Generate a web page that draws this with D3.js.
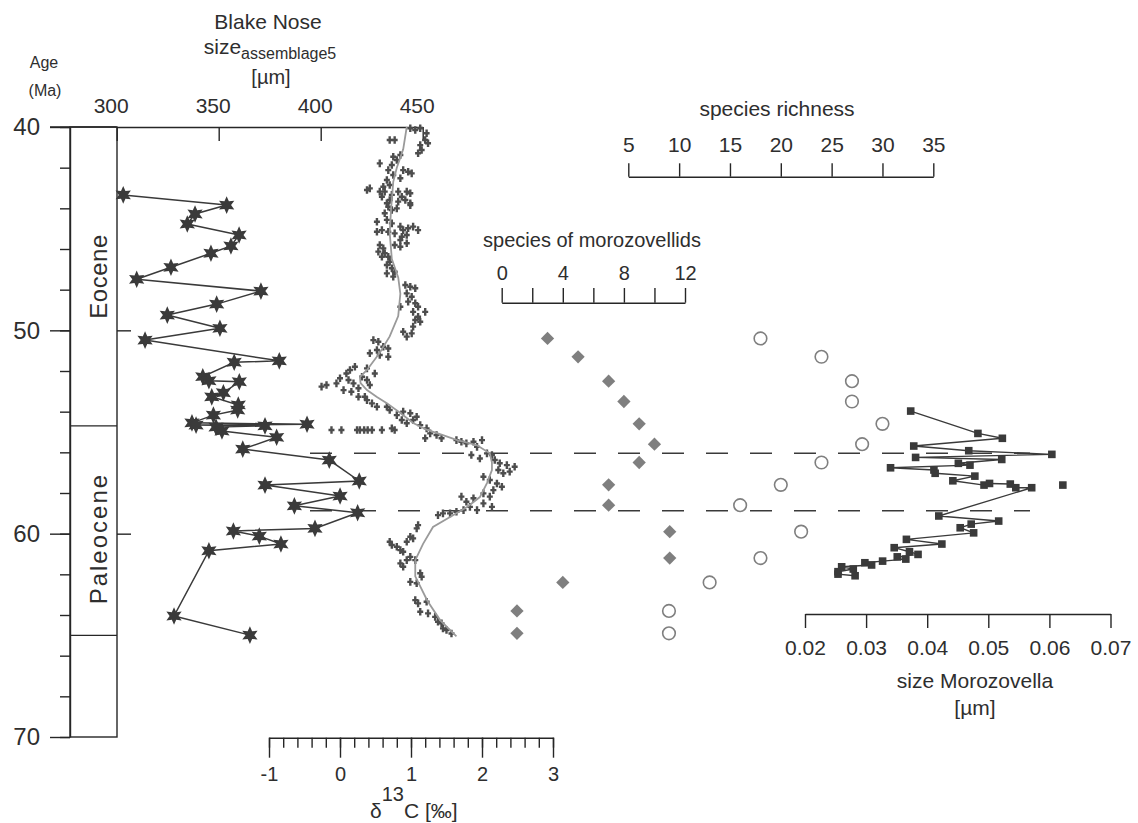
<!DOCTYPE html>
<html>
<head>
<meta charset="utf-8">
<script src="https://cdn.jsdelivr.net/npm/d3@7"></script>
<style>
  body { margin: 0; background: #fff; }
  svg text { font-family: "Liberation Sans", Arial, sans-serif; fill: #2e2e2e; }
</style>
</head>
<body>
<svg id="chart" width="1138" height="823"></svg>
<script>
// ---- data (age in Ma) ----
const epochs = [
  { name: 'Eocene', top: 40, bottom: 54.7 },
  { name: 'Paleocene', top: 54.7, bottom: 65 }
];
const eventAges = [56.05, 58.87];

// size assemblage5 [µm] : [age, size]
const assemblageSize = [
  [43.34, 303.2], [43.84, 353.9], [44.28, 338.4], [44.77, 334.6], [45.31, 360.0],
  [45.85, 356.0], [46.21, 346.2], [46.90, 326.6], [47.49, 309.8], [48.07, 370.7],
  [48.71, 349.0], [49.25, 324.8], [49.90, 350.6], [50.48, 313.9], [51.50, 379.7],
  [51.57, 357.6], [52.28, 342.2], [52.48, 345.2], [52.53, 360.1], [53.07, 352.3],
  [53.27, 346.6], [53.67, 359.6], [53.92, 359.3], [54.17, 347.4], [54.55, 336.9],
  [54.62, 393.3], [54.66, 338.9], [54.70, 372.7], [54.76, 348.7], [54.95, 351.6],
  [55.26, 378.4], [55.84, 361.8], [56.38, 404.2], [57.41, 418.9], [57.61, 372.7],
  [58.15, 409.5], [58.63, 387.1], [58.97, 418.1], [59.74, 397.2], [59.87, 357.2],
  [60.12, 369.9], [60.51, 380.5], [60.84, 345.2], [64.05, 328.1], [64.99, 365.3]
];

// bulk δ13C [‰] : [age, d13C]
const d13C = [
  [40.06, 0.99], [40.15, 1.06], [40.06, 1.13], [40.31, 1.22], [40.64, 1.20], [40.89, 1.13],
  [40.80, 1.24], [41.13, 1.15], [41.29, 1.10], [40.64, 0.70], [40.64, 0.77],
  [41.46, 0.75], [41.62, 0.80], [41.38, 0.85], [41.87, 0.73], [42.12, 0.68], [42.12, 0.89],
  [42.20, 0.96], [42.28, 1.01], [41.79, 0.56], [42.36, 0.75], [42.61, 0.66], [42.52, 0.85],
  [42.85, 0.70], [42.94, 0.61], [43.18, 0.56], [43.02, 0.42], [43.10, 0.38], [43.18, 0.63],
  [43.34, 0.73], [43.18, 0.82], [43.43, 0.87], [43.18, 0.94], [43.26, 0.99], [43.59, 0.92],
  [43.67, 0.82], [43.59, 0.70], [43.75, 0.66], [43.43, 0.59], [43.75, 0.99],
  [43.92, 0.68], [44.08, 0.73], [44.24, 0.63], [44.00, 0.80], [43.84, 0.99], [44.66, 0.52],
  [44.57, 0.66], [44.74, 0.73], [44.90, 0.85], [45.07, 0.89], [44.98, 0.96], [44.90, 1.03],
  [45.07, 1.10], [45.31, 0.94], [45.40, 0.87], [45.23, 0.77], [45.15, 0.68], [45.07, 0.59],
  [45.15, 0.52],
  [45.80, 0.56], [45.97, 0.61], [46.13, 0.54], [46.21, 0.63], [46.38, 0.68], [46.38, 0.59],
  [46.63, 0.70], [46.79, 0.66], [46.95, 0.73], [47.12, 0.77], [47.20, 0.66], [47.36, 0.75],
  [45.89, 0.85], [45.80, 0.77], [45.72, 0.94], [45.56, 0.85],
  [47.77, 0.92], [47.86, 0.99], [47.93, 1.06], [48.18, 0.94], [48.35, 1.01], [48.59, 0.96],
  [48.67, 1.06], [48.84, 1.10], [49.09, 1.03], [49.09, 1.20], [49.33, 1.10], [49.49, 1.06],
  [49.58, 1.13], [49.82, 1.03], [50.07, 0.89], [50.15, 1.01], [50.31, 0.94], [48.84, 0.85],
  [50.48, 0.47], [50.56, 0.54], [50.81, 0.61], [50.89, 0.68], [50.97, 0.52], [51.21, 0.56],
  [51.13, 0.42], [51.30, 0.68],
  [52.77, -0.26], [52.69, -0.19], [52.61, -0.05], [52.36, 0.00], [52.12, 0.09], [51.95, 0.14],
  [52.44, 0.12], [52.61, 0.19], [52.94, 0.05], [53.02, 0.16], [52.85, 0.26], [52.28, 0.31],
  [52.44, 0.38], [52.69, 0.42], [53.27, 0.26], [53.27, 0.35], [51.87, 0.38], [52.12, 0.49],
  [51.79, 0.21],
  [53.43, 0.38], [53.59, 0.45], [53.76, 0.52], [53.76, 0.66], [53.92, 0.70], [54.17, 0.80],
  [54.00, 0.89], [54.08, 0.99], [54.41, 0.87], [54.57, 0.94], [54.41, 1.03], [54.66, 1.13],
  [54.25, 1.08], [54.82, 1.22], [55.07, 1.27], [55.15, 1.36], [55.31, 1.43], [55.31, 1.20],
  [54.90, 0.77], [54.82, 0.73],
  [54.90, -0.12], [54.90, 0.02], [54.90, 0.24], [54.90, 0.28], [54.90, 0.34], [54.90, 0.39],
  [54.90, 0.45], [54.90, 0.59],
  [55.40, 1.64], [55.48, 1.71], [55.56, 1.78], [55.48, 1.88], [55.73, 1.93], [55.40, 2.00],
  [56.13, 1.85], [56.30, 1.97], [56.05, 2.07], [56.13, 2.14], [56.38, 2.18], [56.54, 2.25],
  [56.63, 2.35], [56.71, 2.46], [56.87, 2.23], [57.03, 2.30], [56.95, 2.39], [57.20, 2.02],
  [57.36, 2.11], [57.53, 2.21], [57.69, 2.28], [57.86, 2.16], [58.02, 2.02], [58.18, 2.11],
  [58.26, 1.88], [58.43, 1.78], [58.18, 1.71], [58.68, 1.83], [58.84, 1.93], [58.68, 2.14],
  [58.51, 2.02], [58.84, 1.74], [58.92, 1.64], [59.00, 1.55], [59.00, 1.45], [59.09, 1.38],
  [59.58, 1.10], [59.74, 1.08], [60.15, 0.99], [60.23, 1.03], [60.40, 0.94], [60.40, 0.70],
  [60.56, 0.73], [60.64, 0.80], [60.81, 0.85], [60.89, 0.89], [61.46, 0.85], [61.63, 0.89],
  [61.30, 0.94], [61.14, 0.99], [61.30, 1.06], [61.95, 1.13], [62.37, 0.99], [62.44, 1.08],
  [62.12, 1.15], [63.27, 1.06], [63.43, 1.10], [63.35, 1.22], [63.84, 1.13], [63.92, 1.24],
  [64.09, 1.34], [64.33, 1.38], [64.41, 1.43], [64.66, 1.45], [64.74, 1.50], [64.91, 1.57]
];

// smoothed δ13C : [age, d13C]
const d13CSmooth = [
  [40.0, 0.94], [41.1, 0.89], [42.0, 0.80], [42.7, 0.75], [44.0, 0.72], [45.2, 0.70],
  [46.5, 0.73], [47.4, 0.82], [48.2, 0.85], [49.3, 0.82], [50.3, 0.70], [51.1, 0.56],
  [51.95, 0.38], [52.3, 0.28], [52.6, 0.29], [52.94, 0.38], [53.28, 0.52], [53.58, 0.66],
  [54.07, 0.85], [54.56, 1.03], [54.9, 1.23], [55.15, 1.45], [55.4, 1.65], [55.65, 1.93],
  [56.05, 2.11], [56.5, 2.14], [56.87, 2.14], [57.51, 2.07], [58.2, 1.97], [58.69, 1.79],
  [59.18, 1.55], [59.67, 1.31], [60.5, 1.17], [61.3, 1.06], [62.1, 1.06], [63.3, 1.23],
  [64.25, 1.41], [65.05, 1.64]
];

// samples with species counts
const sampleAges = [50.4, 51.3, 52.5, 53.5, 54.6, 55.6, 56.5, 57.6, 58.6, 59.9, 61.2, 62.4, 63.8, 64.9];
const morozovellidSpecies = [3, 5, 7, 8, 9, 10, 9, 7, 7, 11, 11, 4, 1, 1];
const speciesRichness = [18, 24, 27, 27, 30, 28, 24, 20, 16, 22, 18, 13, 9, 9];

// size Morozovella [µm] : [age, size]
const morozovellaSize = [
  [53.97, 0.0373], [55.07, 0.0483], [55.31, 0.0523], [55.69, 0.0378], [55.92, 0.0468],
  [56.10, 0.0604], [56.25, 0.0381], [56.35, 0.0522], [56.54, 0.0451], [56.63, 0.0470],
  [56.76, 0.0340], [56.87, 0.0411], [57.03, 0.0413], [57.17, 0.0478], [57.40, 0.0442],
  [57.61, 0.0493], [57.53, 0.0502], [57.56, 0.0536], [57.74, 0.0545], [57.74, 0.0571],
  [59.13, 0.0419], [59.38, 0.0517], [59.53, 0.0472], [59.71, 0.0454], [59.96, 0.0476],
  [60.28, 0.0366], [60.51, 0.0424], [60.69, 0.0346], [60.89, 0.0371], [61.02, 0.0385],
  [61.14, 0.0351], [61.25, 0.0365], [61.35, 0.0327], [61.43, 0.0298], [61.54, 0.0309],
  [61.63, 0.0260], [61.74, 0.0279], [61.87, 0.0254], [61.99, 0.0254], [62.07, 0.0282]
];
const morozovellaLoose = [[57.61, 0.0622]];

// ---- scales ----
const svg = d3.select('#chart');
const y = d3.scaleLinear().domain([40, 70]).range([127, 737]);
const xSize = d3.scaleLinear().domain([300, 450]).range([116.7, 422.7]);
const xC = d3.scaleLinear().domain([-1, 3]).range([269, 553]);
const xSpec = d3.scaleLinear().domain([0, 12]).range([501.7, 685]);
const xRich = d3.scaleLinear().domain([5, 35]).range([628.3, 933.3]);
const xMoro = d3.scaleLinear().domain([0.02, 0.07]).range([805, 1110.5]);

const ink = '#262626';

// six-pointed star like the original marker
const star6 = {
  draw: function(context, size) {
    const r = Math.sqrt(size) * 0.72;
    const ri = r * 0.5;
    for (let i = 0; i < 12; i++) {
      const a = Math.PI / 6 * i - Math.PI / 2;
      const rr = i % 2 === 0 ? r : ri;
      if (i === 0) context.moveTo(rr * Math.cos(a), rr * Math.sin(a));
      else context.lineTo(rr * Math.cos(a), rr * Math.sin(a));
    }
    context.closePath();
  }
};

function styleAxis(g, size) {
  g.attr('font-family', null);
  g.selectAll('path, line').attr('stroke', ink).attr('stroke-width', 1.4);
  g.selectAll('text').attr('font-size', size).attr('fill', '#2e2e2e');
}

// ---- age axis & epoch column ----
const ageMinor = svg.append('g').attr('transform', 'translate(70,0)')
  .call(d3.axisLeft(y).tickValues(d3.range(40, 71, 2)).tickSize(10).tickSizeOuter(0).tickFormat(''));
styleAxis(ageMinor, 24);
const ageMajor = svg.append('g').attr('transform', 'translate(70,0)')
  .call(d3.axisLeft(y).tickValues([40, 50, 60, 70]).tickSize(20).tickSizeOuter(0).tickPadding(10)
    .tickFormat(d3.format('d')));
styleAxis(ageMajor, 24);
ageMajor.select('.domain').remove();

const ageRight = svg.append('g').attr('transform', 'translate(117,0)')
  .call(d3.axisRight(y).tickValues([50, 60]).tickSize(14).tickFormat(''));
styleAxis(ageRight, 10);
ageRight.select('.domain').remove();

svg.append('rect').attr('x', 70).attr('y', y(40)).attr('width', 47).attr('height', y(70) - y(40))
  .attr('fill', 'none').attr('stroke', ink).attr('stroke-width', 1.4);
svg.selectAll('line.epoch').data(epochs).enter().append('line')
  .attr('class', 'epoch')
  .attr('x1', 70).attr('x2', 117)
  .attr('y1', function(e) { return y(e.bottom); })
  .attr('y2', function(e) { return y(e.bottom); })
  .attr('stroke', ink).attr('stroke-width', 1.4);
svg.selectAll('text.epoch').data(epochs).enter().append('text')
  .attr('class', 'epoch')
  .attr('transform', function(e) {
    return 'translate(99,' + ((y(e.top) + y(e.bottom)) / 2 + (e.name === 'Paleocene' ? 8 : 0)) + ') rotate(-90)';
  })
  .attr('text-anchor', 'middle').attr('dy', '0.35em')
  .attr('font-size', 24)
  .attr('letter-spacing', function(e) { return e.name === 'Paleocene' ? 2 : 0.5; })
  .text(function(e) { return e.name; });

svg.append('text').attr('x', 44).attr('y', 68).attr('text-anchor', 'middle').attr('font-size', 16).text('Age');
svg.append('text').attr('x', 45).attr('y', 96).attr('text-anchor', 'middle').attr('font-size', 16).text('(Ma)');

// ---- size assemblage5 axis (top) ----
const sizeAxis = svg.append('g').attr('transform', 'translate(0,127)')
  .call(d3.axisTop(xSize).tickValues([300, 350, 400, 450]).tickSize(-14).tickSizeOuter(0).tickPadding(14));
styleAxis(sizeAxis, 21);
sizeAxis.selectAll('text').attr('dx', -6);
svg.append('line').attr('x1', 50).attr('x2', xSize(300)).attr('y1', 127).attr('y2', 127)
  .attr('stroke', ink).attr('stroke-width', 1.4);

svg.append('text').attr('x', 268).attr('y', 29).attr('text-anchor', 'middle').attr('font-size', 21).text('Blake Nose');
const sizeTitle = svg.append('text').attr('x', 270).attr('y', 54).attr('text-anchor', 'middle').attr('font-size', 21);
sizeTitle.append('tspan').text('size');
sizeTitle.append('tspan').attr('font-size', 16).attr('dy', 5).text('assemblage5');
svg.append('text').attr('x', 271).attr('y', 84).attr('text-anchor', 'middle').attr('font-size', 20).text('[µm]');

// ---- δ13C axis (bottom) ----
const cMinor = svg.append('g').attr('transform', 'translate(0,737.7)')
  .call(d3.axisBottom(xC).tickValues(d3.range(-1, 3.001, 0.2)).tickSize(10).tickSizeOuter(0).tickFormat(''));
styleAxis(cMinor, 20);
const cMajor = svg.append('g').attr('transform', 'translate(0,737.7)')
  .call(d3.axisBottom(xC).tickValues([-1, 0, 1, 2, 3]).tickSize(20).tickSizeOuter(0).tickPadding(9)
    .tickFormat(d3.format('d')));
styleAxis(cMajor, 20);
cMajor.select('.domain').remove();
cMajor.selectAll('text').text(function(d) { return d < 0 ? '-' + Math.abs(d) : d; });

const cTitle = svg.append('text').attr('x', 370).attr('y', 818).attr('font-size', 21);
cTitle.append('tspan').text('δ');
cTitle.append('tspan').attr('dy', -17).attr('font-size', 20).text('13');
cTitle.append('tspan').attr('dy', 17).text('C [‰]');

// ---- species of morozovellids axis ----
const specAxis = svg.append('g').attr('transform', 'translate(0,302.7)')
  .call(d3.axisTop(xSpec).tickValues(d3.range(0, 13, 2)).tickSize(14.7).tickSizeOuter(0).tickPadding(8)
    .tickFormat(function(d) { return d % 4 === 0 ? d : ''; }));
styleAxis(specAxis, 20);
svg.append('text').attr('x', 592).attr('y', 247).attr('text-anchor', 'middle').attr('font-size', 20)
  .text('species of morozovellids');

// ---- species richness axis ----
const richAxis = svg.append('g').attr('transform', 'translate(0,176.7)')
  .call(d3.axisTop(xRich).tickValues(d3.range(5, 36, 5)).tickSize(13.4).tickSizeOuter(0).tickPadding(11.6));
styleAxis(richAxis, 21);
svg.append('text').attr('x', 777).attr('y', 116).attr('text-anchor', 'middle').attr('font-size', 21)
  .text('species richness');

// ---- size Morozovella axis ----
const moroAxis = svg.append('g').attr('transform', 'translate(0,614)')
  .call(d3.axisBottom(xMoro).tickValues([0.02, 0.03, 0.04, 0.05, 0.06, 0.07]).tickSize(14).tickSizeOuter(0)
    .tickPadding(12).tickFormat(d3.format('.2f')));
styleAxis(moroAxis, 21);
svg.append('text').attr('x', 975).attr('y', 688).attr('text-anchor', 'middle').attr('font-size', 21)
  .text('size Morozovella');
svg.append('text').attr('x', 975).attr('y', 715).attr('text-anchor', 'middle').attr('font-size', 21)
  .text('[µm]');

// ---- event dashed lines ----
svg.selectAll('line.event').data(eventAges).enter().append('line')
  .attr('class', 'event')
  .attr('x1', 310).attr('x2', 1030)
  .attr('y1', function(d) { return y(d); }).attr('y2', function(d) { return y(d); })
  .attr('stroke', '#3a3a3a').attr('stroke-width', 1.5).attr('stroke-dasharray', '22,22');

// ---- δ13C cloud + smooth ----
svg.selectAll('path.cpt').data(d13C).enter().append('path')
  .attr('class', 'cpt')
  .attr('transform', function(d) { return 'translate(' + xC(d[1]) + ',' + y(d[0]) + ')'; })
  .attr('d', 'M-3,0H3M0,-3.8V3.8')
  .attr('stroke', '#4d4d4d').attr('stroke-width', 2.4);

svg.append('path').datum(d13CSmooth)
  .attr('fill', 'none').attr('stroke', '#9a9a9a').attr('stroke-width', 1.8)
  .attr('d', d3.line().x(function(d) { return xC(d[1]); }).y(function(d) { return y(d[0]); }));

// ---- assemblage size stars ----
svg.append('path').datum(assemblageSize)
  .attr('fill', 'none').attr('stroke', '#3a3a3a').attr('stroke-width', 1.5)
  .attr('d', d3.line().x(function(d) { return xSize(d[1]); }).y(function(d) { return y(d[0]); }));
svg.selectAll('path.star').data(assemblageSize).enter().append('path')
  .attr('class', 'star')
  .attr('transform', function(d) { return 'translate(' + xSize(d[1]) + ',' + y(d[0]) + ')'; })
  .attr('d', d3.symbol().type(star6).size(150))
  .attr('fill', '#3a3a3a');

// ---- species of morozovellids (diamonds) ----
svg.selectAll('path.dia').data(sampleAges).enter().append('path')
  .attr('class', 'dia')
  .attr('transform', function(d, i) {
    return 'translate(' + xSpec(morozovellidSpecies[i]) + ',' + y(d) + ') rotate(45)';
  })
  .attr('d', d3.symbol().type(d3.symbolSquare).size(88))
  .attr('fill', '#7f7f7f');

// ---- species richness (open circles) ----
svg.selectAll('circle.rich').data(sampleAges).enter().append('circle')
  .attr('class', 'rich')
  .attr('cx', function(d, i) { return xRich(speciesRichness[i]); })
  .attr('cy', function(d) { return y(d); })
  .attr('r', 6.3)
  .attr('fill', '#fff').attr('stroke', '#7f7f7f').attr('stroke-width', 1.6);

// ---- size Morozovella (squares) ----
svg.append('path').datum(morozovellaSize)
  .attr('fill', 'none').attr('stroke', '#3a3a3a').attr('stroke-width', 1.4)
  .attr('d', d3.line().x(function(d) { return xMoro(d[1]); }).y(function(d) { return y(d[0]); }));
svg.selectAll('rect.moro').data(morozovellaSize.concat(morozovellaLoose)).enter().append('rect')
  .attr('class', 'moro')
  .attr('x', function(d) { return xMoro(d[1]) - 3.8; })
  .attr('y', function(d) { return y(d[0]) - 3.8; })
  .attr('width', 7.6).attr('height', 7.6)
  .attr('fill', '#3a3a3a');
</script>
</body>
</html>
